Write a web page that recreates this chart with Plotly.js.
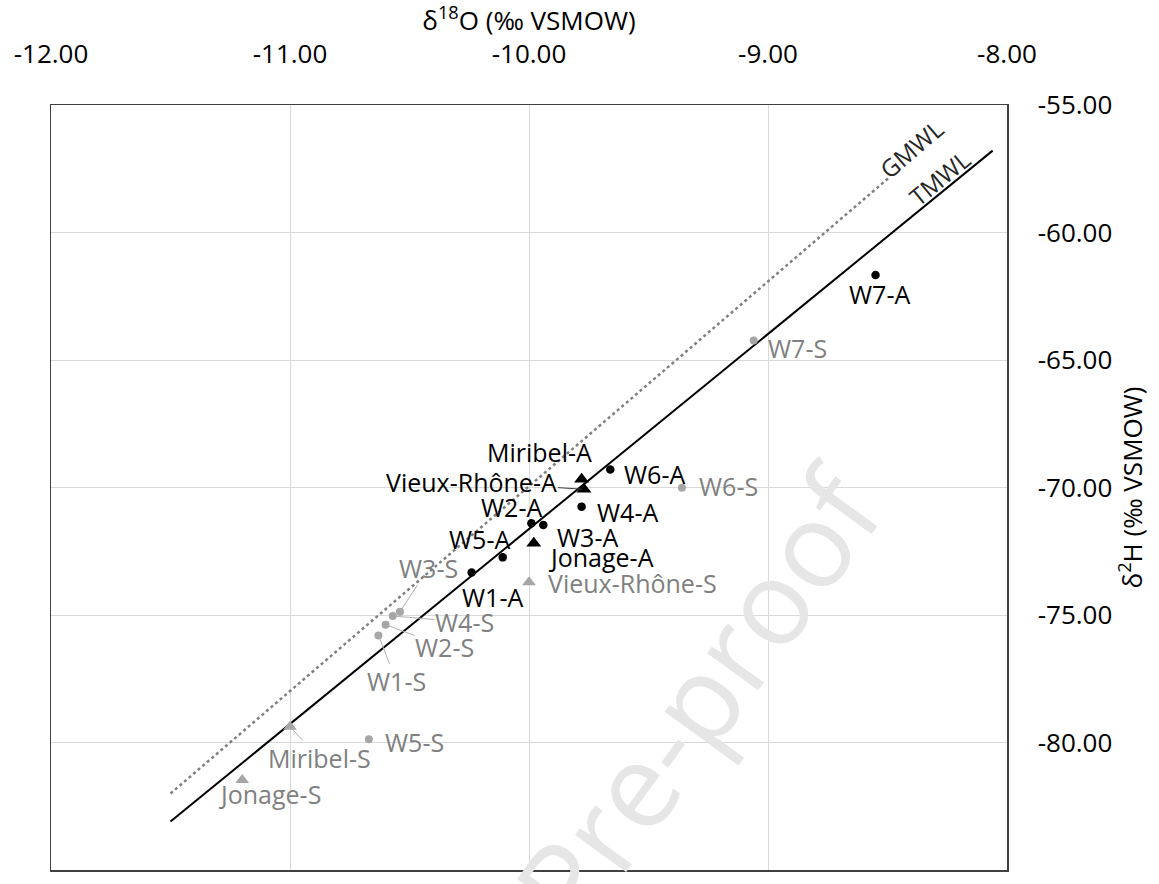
<!DOCTYPE html>
<html>
<head>
<meta charset="utf-8">
<script src="https://cdn.plot.ly/plotly-3.0.1.min.js"></script>
<style>
html,body{margin:0;padding:0;background:#fff;}
#chart{width:1159px;height:884px;}
</style>
</head>
<body>
<div id="chart"></div>
<script>
// ---- data ----
const wellA_names = ['W1-A','W2-A','W3-A','W4-A','W5-A','W6-A','W7-A'];
const wellA_d18O  = [-10.24, -9.99, -9.94, -9.78, -10.11, -9.66, -8.55];
const wellA_d2H   = [-73.33, -71.40, -71.47, -70.75, -72.74, -69.29, -61.67];

const riverA_names = ['Miribel-A','Vieux-Rhône-A','Jonage-A'];
const riverA_d18O  = [-9.78, -9.77, -9.98];
const riverA_d2H   = [-69.68, -70.07, -72.19];

const wellS_names = ['W1-S','W2-S','W3-S','W4-S','W5-S','W6-S','W7-S'];
const wellS_d18O  = [-10.63, -10.60, -10.54, -10.57, -10.67, -9.36, -9.06];
const wellS_d2H   = [-75.80, -75.38, -74.87, -75.04, -79.87, -70.01, -64.24];

const riverS_names = ['Miribel-S','Vieux-Rhône-S','Jonage-S'];
const riverS_d18O  = [-11.00, -10.00, -11.20];
const riverS_d2H   = [-79.38, -73.72, -81.47];

// meteoric water lines (end points)
const tmwl_d18O = [-11.50, -8.06];
const tmwl_d2H  = [-83.10, -56.79];
const gmwl_d18O = [-11.50, -8.49];
const gmwl_d2H  = [-82.00, -57.82];
const lineLabels = ['GMWL', 'TMWL'];
const lineLabel_d18O = [-8.40, -8.28];
const lineLabel_d2H  = [-56.69, -57.86];

const xTickVals = [-12, -11, -10, -9, -8];
const xTickText = ['-12.00', '-11.00', '-10.00', '-9.00', '-8.00'];
const yTickVals = [-85, -80, -75, -70, -65, -60, -55];
const yTickText = ['-85.00', '-80.00', '-75.00', '-70.00', '-65.00', '-60.00', '-55.00'];

const xTitle = 'δ<sup>18</sup>O (‰ VSMOW)';
const yTitle = 'δ<sup>2</sup>H (‰ VSMOW)';
const watermark = 'Pre-proof';

// ---- styling ----
const FONT = 'Open Sans, Noto Sans, sans-serif';
const FS = 25;
const BLACK = '#000000';
const GRAY_M = '#a6a6a6';
const GRAY_T = '#808080';

// label offsets in pixels [dx, dy, leader]
const labelPos = {
  'W1-A': [21, 25, false], 'W2-A': [-20, -16, false], 'W3-A': [44, 12, false],
  'W4-A': [46, 5, false], 'W5-A': [-23, -18, false], 'W6-A': [44, 5, false],
  'W7-A': [4, 19, false],
  'Miribel-A': [-42, -27, false], 'Vieux-Rhône-A': [-112, -7, true], 'Jonage-A': [68, 14, false],
  'W1-S': [18, 46, true], 'W2-S': [59, 22, true], 'W3-S': [29, -44, true],
  'W4-S': [72, 6, true], 'W5-S': [46, 3, false], 'W6-S': [47, -2, false], 'W7-S': [44, 7, false],
  'Miribel-S': [29, 31, true], 'Vieux-Rhône-S': [103, 1, false], 'Jonage-S': [28, 14, false]
};

const traces = [
  {x: gmwl_d18O, y: gmwl_d2H, mode: 'lines', name: 'GMWL',
   line: {color: '#808080', width: 2.5, dash: 'dot'}, hoverinfo: 'skip'},
  {x: tmwl_d18O, y: tmwl_d2H, mode: 'lines', name: 'TMWL',
   line: {color: BLACK, width: 2}, hoverinfo: 'skip'},
  {x: wellS_d18O, y: wellS_d2H, text: wellS_names, mode: 'markers',
   marker: {color: GRAY_M, size: 8, symbol: 'circle'}},
  {x: riverS_d18O, y: riverS_d2H, text: riverS_names, mode: 'markers',
   marker: {color: GRAY_M, size: 12, symbol: 'triangle-up'}},
  {x: wellA_d18O, y: wellA_d2H, text: wellA_names, mode: 'markers',
   marker: {color: BLACK, size: 8.5, symbol: 'circle'}},
  {x: riverA_d18O, y: riverA_d2H, text: riverA_names, mode: 'markers',
   marker: {color: BLACK, size: 13, symbol: 'triangle-up'}}
];

const annotations = [];

// watermark first so that it sits below the labels
annotations.push({xref: 'paper', yref: 'paper', x: 0.677, y: 0.228, text: watermark,
  xanchor: 'center', yanchor: 'middle',
  showarrow: false, textangle: -54, font: {family: FONT, size: 118, color: '#e6e6e6'}});

function addLabels(names, xs, ys, color, arrowColor) {
  names.forEach((n, i) => {
    const p = labelPos[n];
    const a = {x: xs[i], y: ys[i], xref: 'x', yref: 'y', text: n,
      font: {family: FONT, size: FS, color: color},
      xanchor: 'center', yanchor: 'middle', borderpad: 0};
    if (p[2]) {
      Object.assign(a, {showarrow: true, ax: p[0], ay: p[1], arrowhead: 0,
        arrowwidth: 1, arrowcolor: arrowColor, standoff: 2});
    } else {
      Object.assign(a, {showarrow: false, xshift: p[0], yshift: -p[1]});
    }
    annotations.push(a);
  });
}
addLabels(wellA_names, wellA_d18O, wellA_d2H, BLACK, '#404040');
addLabels(riverA_names, riverA_d18O, riverA_d2H, BLACK, '#404040');
addLabels(wellS_names, wellS_d18O, wellS_d2H, GRAY_T, '#b0b0b0');
addLabels(riverS_names, riverS_d18O, riverS_d2H, GRAY_T, '#b0b0b0');

// line labels
annotations.push({x: lineLabel_d18O[0], y: lineLabel_d2H[0], text: lineLabels[0], showarrow: false,
  xanchor: 'center', yanchor: 'middle',
  textangle: -40.5, font: {family: FONT, size: 24, color: '#262626'}});
annotations.push({x: lineLabel_d18O[1], y: lineLabel_d2H[1], text: lineLabels[1], showarrow: false,
  xanchor: 'center', yanchor: 'middle',
  textangle: -39.3, font: {family: FONT, size: 24, color: '#262626'}});

const axisCommon = {
  showgrid: true, gridcolor: '#d9d9d9', gridwidth: 1,
  showline: true, linecolor: '#404040', linewidth: 1.5, mirror: true,
  zeroline: false, tickmode: 'array',
  ticks: 'outside', tickcolor: 'rgba(0,0,0,0)', tickwidth: 1,
  tickfont: {family: FONT, size: 26, color: '#000'}
};

const layout = {
  width: 1159, height: 884,
  margin: {l: 51, r: 152, t: 105, b: 14},
  paper_bgcolor: '#ffffff', plot_bgcolor: '#ffffff',
  showlegend: false,
  xaxis: Object.assign({}, axisCommon, {
    side: 'top', range: [-12, -8], tickvals: xTickVals, ticktext: xTickText,
    ticklen: 30,
    title: {text: xTitle, font: {family: FONT, size: 26, color: '#000'}, standoff: 0}
  }),
  yaxis: Object.assign({}, axisCommon, {
    side: 'right', range: [-85, -55], tickvals: yTickVals, ticktext: yTickText,
    ticklen: 24,
    title: {text: yTitle, font: {family: FONT, size: 26, color: '#000'}, standoff: 5}
  }),
  annotations: annotations
};

Plotly.newPlot('chart', traces, layout, {displayModeBar: false, staticPlot: true});
</script>
</body>
</html>
